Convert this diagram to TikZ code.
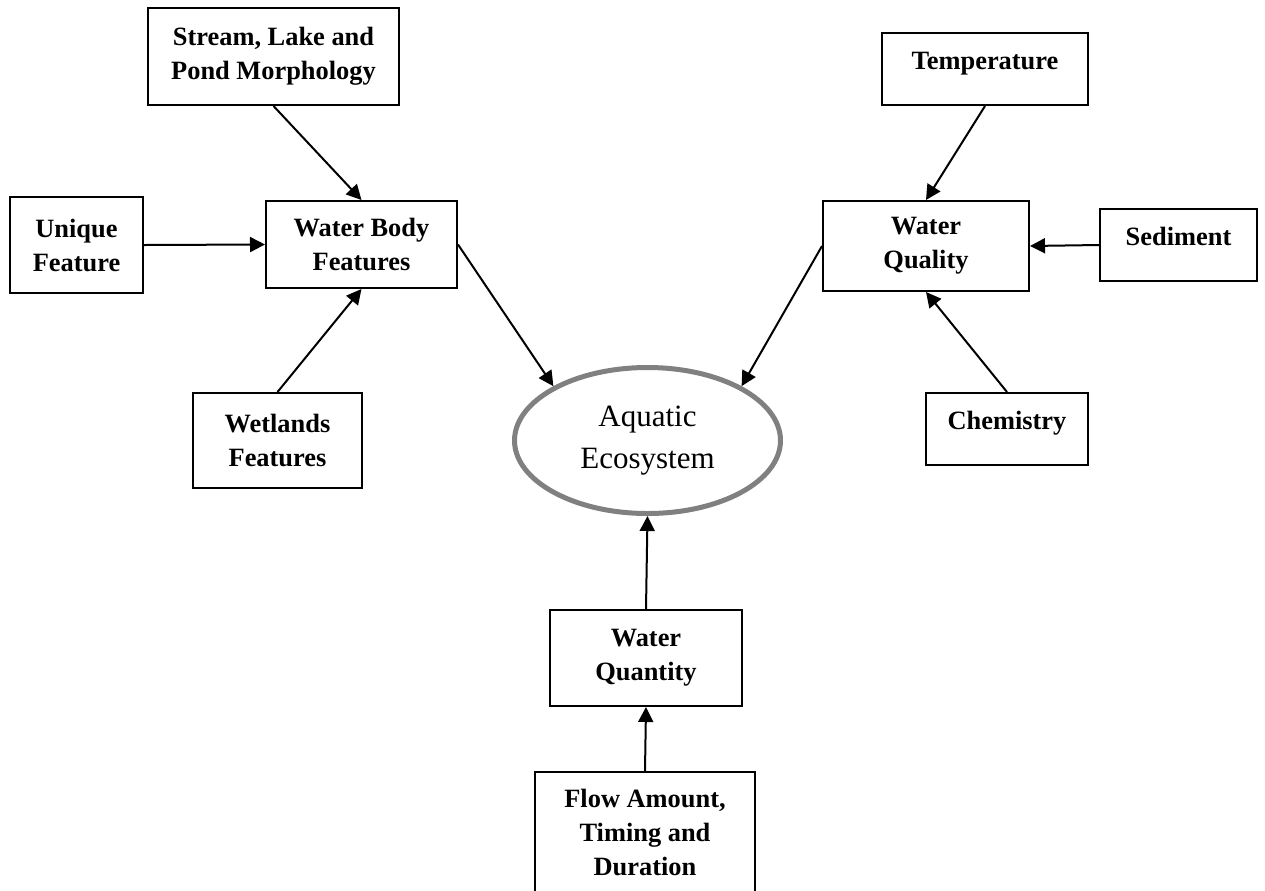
\documentclass[tikz,border=0pt]{standalone}
\usepackage{fontspec}
\setmainfont{Liberation Serif}
\usetikzlibrary{arrows.meta,shapes.geometric}
\tikzset{factor/.style={draw, line width=1pt, align=center, inner sep=0pt, font=\fontsize{13.2}{17}\selectfont\bfseries},
  oneline/.style={factor, text height=9pt, text depth=9pt},
  feeds/.style={line width=1pt, -{Triangle[length=7.5pt, width=7.5pt]}}}

\begin{document}
\begin{tikzpicture}[x=0.5pt, y=-0.5pt]
            \useasboundingbox (0,0) rectangle (1265,890);
            \node[factor, minimum width=125.5pt, minimum height=48.5pt] (stream) at (273.5,56.5) {Stream, Lake and\\Pond Morphology};
            \node[factor, minimum width=66.5pt, minimum height=48pt] (unique) at (76.5,245) {Unique\\Feature};
            \node[factor, minimum width=95.5pt, minimum height=43.5pt] (wbody) at (361.5,244.5) {Water Body\\Features};
            \node[factor, minimum width=84.5pt, minimum height=47.5pt] (wet) at (277.5,440.5) {Wetlands\\Features};
            \node[oneline, minimum width=103pt, minimum height=36pt] (temp) at (985,69) {Temperature};
            \node[factor, minimum width=103pt, minimum height=45pt] (wqual) at (926,246) {Water\\Quality};
            \node[oneline, minimum width=78.5pt, minimum height=36pt] (sed) at (1178.5,245) {Sediment};
            \node[oneline, minimum width=81pt, minimum height=36pt] (chem) at (1007,429) {Chemistry};
            \node[ellipse, draw=gray, line width=2.5pt, minimum width=133pt, minimum height=73pt, inner sep=0pt, align=center, font=\fontsize{15.5}{21}\selectfont] (eco) at (647.5,440.5) {Aquatic\\Ecosystem};
            \node[factor, minimum width=96pt, minimum height=48pt] (wquant) at (646,658) {Water\\Quantity};
            \node[factor, minimum width=110pt, minimum height=60pt] (flow) at (645,832) {Flow Amount,\\Timing and\\Duration};
            % Inputs to the water body and to water quality
            \draw[feeds] (stream.south) -- (wbody.north);
            \draw[feeds] (unique.east) -- (wbody.west);
            \draw[feeds] (wet.north) -- (wbody.south);
            \draw[feeds] (temp.south) -- (wqual.north);
            \draw[feeds] (sed.west) -- (wqual.east);
            \draw[feeds] (chem.north) -- (wqual.south);
            % Into the ecosystem
            \draw[feeds] (wbody.east) -- (eco.150);
            \draw[feeds] (wqual.west) -- (eco.30);
            \draw[feeds] (wquant.north) -- (eco.south);
            \draw[feeds] (flow.north) -- (wquant.south);
        \end{tikzpicture}
\end{document}
